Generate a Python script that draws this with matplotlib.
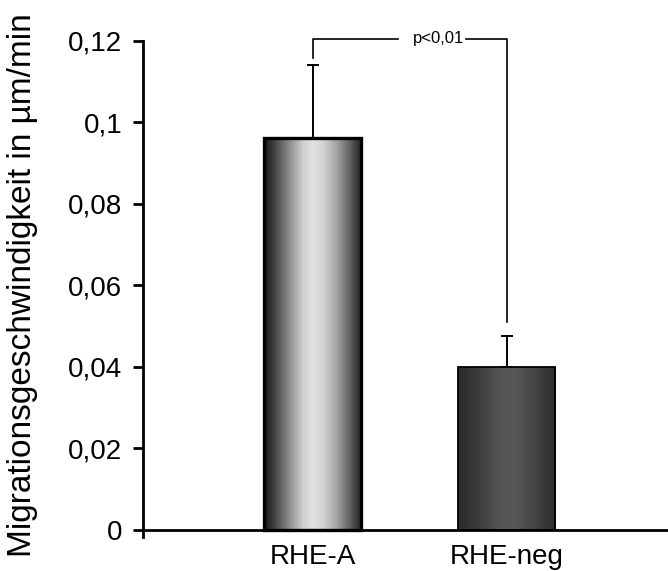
import numpy as np
import matplotlib
matplotlib.use("Agg")
import matplotlib.pyplot as plt
from matplotlib.colors import LinearSegmentedColormap

plt.rcParams['font.family'] = ['Liberation Sans', 'DejaVu Sans']

# Daten
categories = ['RHE-A', 'RHE-neg']
means = [0.096, 0.040]
errors = [0.018, 0.0075]
p_label = 'p<0,01'
yticks = [0, 0.02, 0.04, 0.06, 0.08, 0.1, 0.12]
ytick_labels = ['0', '0,02', '0,04', '0,06', '0,08', '0,1', '0,12']

# Zylinder-Verläufe
cmap_a = LinearSegmentedColormap.from_list('a', [
    (0.0, '#1a1a1a'), (0.1, '#404040'), (0.25, '#8a8a8a'), (0.4, '#d0d0d0'),
    (0.5, '#e2e2e2'), (0.6, '#d4d4d4'), (0.75, '#a0a0a0'), (0.9, '#555555'),
    (1.0, '#222222')])
cmap_b = LinearSegmentedColormap.from_list('b', [
    (0.0, '#2a2a2a'), (0.2, '#3c3c3c'), (0.45, '#575757'), (0.6, '#555555'),
    (0.85, '#3e3e3e'), (1.0, '#2c2c2c')])
cmaps = [cmap_a, cmap_b]
edge_widths = [2.4, 1.3]

fig = plt.figure(figsize=(6.68, 5.71), dpi=100)
ax = fig.add_axes([143 / 668, 34 / 571, 1 - 143 / 668, (537 - 40.7) / 571])

# Achsen zuerst (set_position setzt die Ticks zurück)
ax.spines['top'].set_visible(False)
ax.spines['right'].set_visible(False)
ax.spines['left'].set_linewidth(2)
ax.spines['bottom'].set_linewidth(2)
ax.spines['bottom'].set_position(('data', 0))
ax.spines['bottom'].set_zorder(5)

x = np.arange(len(categories))
width = 0.5
bars = ax.bar(x, means, width=width, facecolor='none', edgecolor='black', zorder=3)
grad = np.linspace(0, 1, 256).reshape(1, -1)
for bar, cm, lw in zip(bars, cmaps, edge_widths):
    bar.set_linewidth(lw)
    x0, y0 = bar.get_x(), bar.get_y()
    im = ax.imshow(grad, cmap=cm, aspect='auto', zorder=2,
                   extent=[x0, x0 + bar.get_width(), y0, y0 + bar.get_height()])
    im.set_clip_path(bar)

ax.errorbar(x, means, yerr=[np.zeros(len(means)), errors], fmt='none',
            ecolor='black', elinewidth=1.4, capsize=4.3, capthick=1.4, zorder=4)

# Signifikanz-Klammer
y_top = 0.1205
ax.plot([0, 0, 0.44], [means[0] + errors[0] + 0.0017, y_top, y_top],
        color='black', lw=1.2, clip_on=False)
ax.plot([0.79, 1, 1], [y_top, y_top, 0.051], color='black', lw=1.2, clip_on=False)
ax.text(0.645, y_top, p_label, ha='center', va='center', fontsize=12)

ax.set_xlim(-0.876, 1.83)
ax.set_ylim(-0.0018, 0.12)
ax.set_xticks(x)
ax.set_xticklabels(categories)
ax.set_yticks(yticks)
ax.set_yticklabels(ytick_labels)
ax.tick_params(axis='x', length=0, pad=10, labelsize=20)
ax.tick_params(axis='y', direction='out', length=7, width=2, pad=8, labelsize=20)

fig.text(23 / 668, 0.5, 'Migrationsgeschwindigkeit in µm/min', rotation=90,
         ha='center', va='center', fontsize=24)

fig.savefig('out.png', dpi=100)
